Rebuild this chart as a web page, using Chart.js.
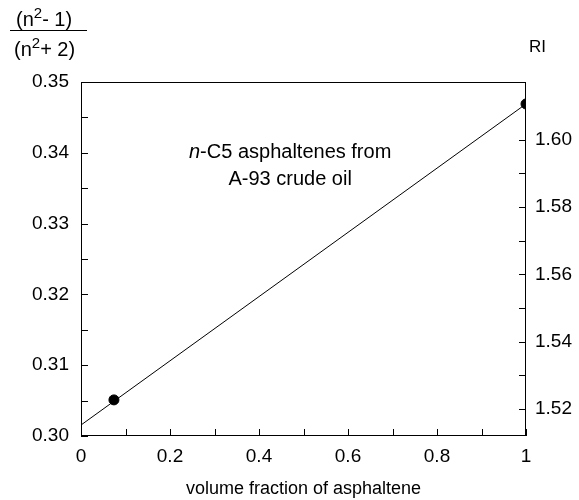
<!DOCTYPE html>
<html lang="en">
<head>
    <meta charset="UTF-8">
    <title>Refractive index vs volume fraction</title>
    <script src="https://cdn.jsdelivr.net/npm/chart.js"></script>
    <style>
        body { margin: 0; background: #fff; }
        #wrap { width: 579px; height: 500px; }
    </style>
</head>
<body>
    <div id="wrap">
        <canvas id="riChart" width="579" height="500"></canvas>
    </div>

    <script>
        // measured points
        const pointX = [0.074, 1.0];
        const pointY = [0.3051, 0.3469];
        // fitted straight line
        const fitX = [0, 1];
        const fitY = [0.30155, 0.3469];
        // right axis (RI) labels
        const riTicks = [1.52, 1.53, 1.54, 1.55, 1.56, 1.57, 1.58, 1.59, 1.60];

        const FONT = '"Liberation Sans", Arial, sans-serif';

        // inward ticks, box, titles and the note
        const framePlugin = {
            id: 'frame',
            afterDraw(chart) {
                const ctx = chart.ctx;
                const a = chart.chartArea;
                const sx = chart.scales.x, sy = chart.scales.y, sr = chart.scales.y2;
                ctx.save();
                ctx.strokeStyle = '#000';
                ctx.lineWidth = 1;
                ctx.strokeRect(a.left + 0.5, a.top + 0.5, a.right - a.left - 1, a.bottom - a.top - 1);

                const len = 7;
                ctx.beginPath();
                sx.ticks.forEach(t => {
                    const px = Math.round(sx.getPixelForValue(t.value)) + 0.5;
                    ctx.moveTo(px, a.bottom);
                    ctx.lineTo(px, a.bottom - len);
                });
                sy.ticks.forEach(t => {
                    const py = Math.round(sy.getPixelForValue(t.value)) + 0.5;
                    ctx.moveTo(a.left, py);
                    ctx.lineTo(a.left + len, py);
                });
                sr.ticks.forEach(t => {
                    const py = Math.round(sr.getPixelForValue(t.value)) + 0.5;
                    ctx.moveTo(a.right, py);
                    ctx.lineTo(a.right - len, py);
                });
                ctx.stroke();

                ctx.fillStyle = '#000';
                ctx.textBaseline = 'alphabetic';

                // fraction title on the left
                const drawSup = (x, y, pre, post) => {
                    ctx.font = '20px ' + FONT;
                    ctx.textAlign = 'left';
                    ctx.fillText(pre, x, y);
                    let w = ctx.measureText(pre).width;
                    ctx.font = '15px ' + FONT;
                    ctx.fillText('2', x + w, y - 8);
                    w += ctx.measureText('2').width;
                    ctx.font = '20px ' + FONT;
                    ctx.fillText(post, x + w, y);
                };
                drawSup(16, 26, '(n', '- 1)');
                drawSup(14, 56, '(n', '+ 2)');
                ctx.beginPath();
                ctx.moveTo(10, 30.5);
                ctx.lineTo(87, 30.5);
                ctx.stroke();

                ctx.font = '17px ' + FONT;
                ctx.textAlign = 'left';
                ctx.fillText('RI', 529, 52);

                // note inside the plot
                const cx = sx.getPixelForValue(0.47);
                const y1 = sy.getPixelForValue(0.3393);
                const y2 = sy.getPixelForValue(0.3355);
                ctx.font = 'italic 20px ' + FONT;
                const wN = ctx.measureText('n').width;
                ctx.font = '20px ' + FONT;
                const rest = '-C5 asphaltenes from';
                const wR = ctx.measureText(rest).width;
                let x0 = cx - (wN + wR) / 2;
                ctx.font = 'italic 20px ' + FONT;
                ctx.fillText('n', x0, y1);
                ctx.font = '20px ' + FONT;
                ctx.fillText(rest, x0 + wN, y1);
                ctx.textAlign = 'center';
                ctx.fillText('A-93 crude oil', cx, y2);
                ctx.restore();
            }
        };

        const ctx = document.getElementById('riChart').getContext('2d');
        new Chart(ctx, {
            type: 'scatter',
            data: {
                datasets: [
                    {
                        label: 'fit',
                        data: fitX.map((x, i) => ({ x: x, y: fitY[i] })),
                        showLine: true,
                        borderColor: '#000',
                        borderWidth: 1,
                        pointRadius: 0,
                        yAxisID: 'y'
                    },
                    {
                        label: 'measured',
                        data: pointX.map((x, i) => ({ x: x, y: pointY[i] })),
                        showLine: false,
                        backgroundColor: '#000',
                        borderColor: '#000',
                        pointRadius: 5,
                        yAxisID: 'y'
                    }
                ]
            },
            options: {
                responsive: false,
                animation: false,
                layout: { padding: { top: 82, left: 0, right: 0, bottom: 0 } },
                plugins: {
                    legend: { display: false },
                    tooltip: { enabled: false }
                },
                scales: {
                    x: {
                        type: 'linear',
                        min: 0,
                        max: 1,
                        grid: { display: false, drawTicks: false },
                        border: { display: false },
                        ticks: {
                            stepSize: 0.1,
                            padding: 9,
                            color: '#000',
                            font: { family: FONT, size: 19 },
                            maxRotation: 0,
                            autoSkip: false,
                            callback: v => {
                                const r = Math.round(v * 10);
                                if (r % 2 !== 0) return '';
                                if (r === 0) return '0';
                                if (r === 10) return '1';
                                return (r / 10).toFixed(1);
                            }
                        },
                        title: {
                            display: true,
                            text: 'volume fraction of asphaltene',
                            color: '#000',
                            font: { family: FONT, size: 18 },
                            padding: { top: 5, bottom: 0 }
                        },
                        afterFit: s => { s.height = 64; }
                    },
                    y: {
                        type: 'linear',
                        position: 'left',
                        min: 0.30,
                        max: 0.35,
                        grid: { display: false, drawTicks: false },
                        border: { display: false },
                        ticks: {
                            stepSize: 0.005,
                            padding: 12,
                            color: '#000',
                            font: { family: FONT, size: 19 },
                            autoSkip: false,
                            callback: v => {
                                const r = Math.round(v * 1000);
                                return r % 10 === 0 ? (r / 1000).toFixed(2) : '';
                            }
                        },
                        afterFit: s => { s.width = 81; }
                    },
                    y2: {
                        type: 'linear',
                        position: 'right',
                        min: 1.5119,
                        max: 1.6172,
                        grid: { display: false, drawTicks: false },
                        border: { display: false },
                        afterBuildTicks: s => { s.ticks = riTicks.map(v => ({ value: v })); },
                        ticks: {
                            padding: 9,
                            color: '#000',
                            font: { family: FONT, size: 19 },
                            autoSkip: false,
                            callback: v => {
                                const r = Math.round(v * 100);
                                return r % 2 === 0 ? (r / 100).toFixed(2) : '';
                            }
                        },
                        afterFit: s => { s.width = 53; }
                    }
                }
            },
            plugins: [framePlugin]
        });
    </script>
</body>
</html>
